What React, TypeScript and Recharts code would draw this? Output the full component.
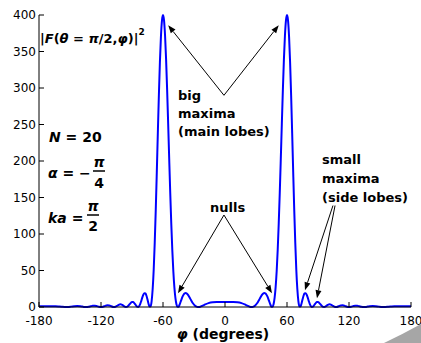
import { LineChart, Line, XAxis, YAxis, ReferenceLine } from "recharts"

// azimuth angle (degrees)
const phi = [
  -180, -174, -170, -167, -164, -161, -158, -155, -152, -149,
  -146, -143, -140, -138, -136, -134, -132, -130, -128, -126,
  -124, -122, -120, -118, -116, -114, -112, -110, -108, -106,
  -104, -103, -102, -101, -100, -99, -98, -97, -96, -95,
  -94, -93, -92, -91, -90, -89, -88, -87, -86, -85,
  -84, -83, -82, -81, -80, -79, -78, -77, -76, -75,
  -74, -73, -72, -71, -70, -69, -68, -67, -66, -65,
  -64, -63, -62, -61, -60, -59, -58, -57, -56, -55,
  -54, -53, -52, -51, -50, -49, -48, -47, -46, -45,
  -44, -43, -42, -41, -40, -39, -38, -37, -36, -35,
  -34, -33, -32, -31, -30, -29, -28, -27, -26, -25,
  -24, -22, -20, -16, -12, -8, -4, 0, 4, 8,
  12, 16, 20, 22, 24, 25, 26, 27, 28, 29,
  30, 31, 32, 33, 34, 35, 36, 37, 38, 39,
  40, 41, 42, 43, 44, 45, 46, 47, 48, 49,
  50, 51, 52, 53, 54, 55, 56, 57, 58, 59,
  60, 61, 62, 63, 64, 65, 66, 67, 68, 69,
  70, 71, 72, 73, 74, 75, 76, 77, 78, 79,
  80, 81, 82, 83, 84, 85, 86, 87, 88, 89,
  90, 91, 92, 93, 94, 95, 96, 97, 98, 99,
  100, 101, 102, 103, 104, 106, 108, 110, 112, 114,
  116, 118, 120, 122, 124, 126, 128, 130, 132, 134,
  136, 138, 140, 143, 146, 149, 152, 155, 158, 161,
  164, 167, 170, 174, 180,
]

// |F(theta = pi/2, phi)|^2
const power = [
  1.17, 1.17, 1.16, 1.09, 0.92, 0.64, 0.31, 0.05, 0.09, 0.51,
  1.08, 1.38, 1.05, 0.57, 0.13, 0.01, 0.34, 1.0, 1.59, 1.69,
  1.18, 0.39, 0.0, 0.45, 1.5, 2.31, 2.11, 1.0, 0.06, 0.43,
  2.06, 2.94, 3.53, 3.67, 3.29, 2.47, 1.44, 0.51, 0.03, 0.2,
  1.12, 2.63, 4.38, 5.93, 6.83, 6.77, 5.71, 3.91, 1.9, 0.4,
  0.05, 1.32, 4.25, 8.45, 13.1, 16.9, 19.0, 18.6, 15.4, 10.2,
  4.53, 0.54, 0.89, 8.2, 24.6, 51.1, 87.9, 133.2, 184.6, 238.4,
  289.8, 335.3, 370.4, 392.5, 400, 392.6, 371.5, 338.9, 297.4, 251.0,
  203.0, 156.6, 114.3, 78.1, 48.9, 27.2, 12.4, 3.85, 0.3, 0.47,
  3.05, 6.85, 10.9, 14.5, 17.2, 18.8, 19.2, 18.5, 17.0, 14.8,
  12.3, 9.74, 7.28, 5.07, 3.22, 1.79, 0.8, 0.22, 0.0, 0.1,
  0.44, 1.58, 2.97, 5.36, 6.59, 6.92, 6.88, 6.83, 6.88, 6.92,
  6.59, 5.36, 2.97, 1.58, 0.44, 0.1, 0.0, 0.22, 0.8, 1.79,
  3.22, 5.07, 7.28, 9.74, 12.3, 14.8, 17.0, 18.5, 19.2, 18.8,
  17.2, 14.5, 10.9, 6.85, 3.05, 0.47, 0.3, 3.85, 12.4, 27.2,
  48.9, 78.1, 114.3, 156.6, 203.0, 251.0, 297.4, 338.9, 371.5, 392.6,
  400, 392.5, 370.4, 335.3, 289.8, 238.4, 184.6, 133.2, 87.9, 51.1,
  24.6, 8.2, 0.89, 0.54, 4.53, 10.2, 15.4, 18.6, 19.0, 16.9,
  13.1, 8.45, 4.25, 1.32, 0.05, 0.4, 1.9, 3.91, 5.71, 6.77,
  6.83, 5.93, 4.38, 2.63, 1.12, 0.2, 0.03, 0.51, 1.44, 2.47,
  3.29, 3.67, 3.53, 2.94, 2.06, 0.43, 0.06, 1.0, 2.11, 2.31,
  1.5, 0.45, 0.0, 0.39, 1.18, 1.69, 1.59, 1.0, 0.34, 0.01,
  0.13, 0.57, 1.05, 1.38, 1.08, 0.51, 0.09, 0.05, 0.31, 0.64,
  0.92, 1.09, 1.16, 1.17, 1.17,
]

const phiTicks = [-180, -120, -60, 0, 60, 120, 180]
const powerTicks = [0, 50, 100, 150, 200, 250, 300, 350, 400]

// annotation arrows, [from, to] in data units
const arrows = [
  [{ x: -1, y: 290 }, { x: -55, y: 386 }],
  [{ x: -1, y: 290 }, { x: 52, y: 386 }],
  [{ x: -1, y: 126 }, { x: -45.5, y: 19 }],
  [{ x: -1, y: 126 }, { x: 45.5, y: 19 }],
  [{ x: 104.5, y: 139 }, { x: 77.4, y: 23 }],
  [{ x: 106.5, y: 139 }, { x: 89, y: 12 }],
]

const data = phi.map((p, i) => ({ phi: p, power: power[i] }))

const FONT = "DejaVu Sans"

function ArrowShape(p: any) {
  const { x1, y1, x2, y2 } = p
  const a = Math.atan2(y2 - y1, x2 - x1)
  const len = 8
  const half = 3
  const bx = x2 - len * Math.cos(a)
  const by = y2 - len * Math.sin(a)
  const pts = `${x2},${y2} ${bx - half * Math.sin(a)},${by + half * Math.cos(a)} ${bx + half * Math.sin(a)},${by - half * Math.cos(a)}`
  return (
    <g>
      <line x1={x1} y1={y1} x2={bx} y2={by} stroke="#000" strokeWidth={1} />
      <polygon points={pts} fill="#000" />
    </g>
  )
}

const axisProps = {
  axisLine: { stroke: "#000" },
  tickLine: { stroke: "#000" },
  tickSize: -5,
}

export default function App() {
  const bold = { fontFamily: FONT, fontWeight: 700, fontSize: 13, fill: "#000" }
  const math = { fontFamily: FONT, fontWeight: 700, fontSize: 14, fill: "#000" }
  const it = { fontStyle: "italic" }
  return (
    <div style={{ position: "absolute", left: 0, top: 0, width: 421, height: 343, background: "#fff" }}>
      <LineChart width={421} height={343} data={data} margin={{ top: 15, right: 10, bottom: 0, left: 0 }}>
        <XAxis
          dataKey="phi"
          type="number"
          domain={[-180, 180]}
          ticks={phiTicks}
          interval={0}
          height={36}
          tickMargin={14}
          tick={{ fontSize: 12, fontFamily: FONT, fill: "#000" }}
          {...axisProps}
        />
        <XAxis
          xAxisId="top"
          orientation="top"
          dataKey="phi"
          type="number"
          domain={[-180, 180]}
          ticks={phiTicks}
          allowDataOverflow
          height={0}
          tick={false}
          {...axisProps}
        />
        <YAxis
          type="number"
          domain={[0, 400]}
          ticks={powerTicks}
          interval={0}
          width={39}
          tickMargin={8}
          tick={{ fontSize: 12, fontFamily: FONT, fill: "#000" }}
          {...axisProps}
        />
        <YAxis
          yAxisId="right"
          orientation="right"
          type="number"
          domain={[0, 400]}
          ticks={powerTicks}
          allowDataOverflow
          width={0}
          tick={false}
          {...axisProps}
        />
        <Line
          type="monotone"
          dataKey="power"
          stroke="#0000ff"
          strokeWidth={2}
          dot={false}
          isAnimationActive={false}
        />
        {arrows.map((seg, i) => (
          <ReferenceLine key={i} segment={seg} shape={ArrowShape} ifOverflow="visible" />
        ))}
      </LineChart>
      <svg width={421} height={343} style={{ position: "absolute", left: 0, top: 0, pointerEvents: "none" }}>
        <text x={40} y={43} {...math} fontSize={13}>
          |<tspan {...it}>F</tspan>(<tspan {...it}>θ</tspan> = <tspan {...it}>π</tspan>/2,<tspan {...it}>φ</tspan>)|<tspan dy={-8} fontSize={9}>2</tspan>
        </text>

        <text x={49} y={142} {...math}><tspan {...it}>N</tspan> = 20</text>

        <text x={48} y={178} {...math}><tspan {...it}>α</tspan> = −</text>
        <text x={99} y={167} {...math} {...it} textAnchor="middle">π</text>
        <line x1={93} x2={105} y1={171} y2={171} stroke="#000" strokeWidth={1.5} />
        <text x={99} y={188} {...math} textAnchor="middle">4</text>

        <text x={48} y={223} {...math}><tspan {...it}>ka</tspan> =</text>
        <text x={93} y={211} {...math} {...it} textAnchor="middle">π</text>
        <line x1={87} x2={99} y1={215} y2={215} stroke="#000" strokeWidth={1.5} />
        <text x={93} y={231} {...math} textAnchor="middle">2</text>

        <text x={178} y={100} {...bold}>big</text>
        <text x={178} y={118} {...bold}>maxima</text>
        <text x={178} y={136} {...bold}>(main lobes)</text>

        <text x={210} y={212} {...bold}>nulls</text>

        <text x={322} y={164} {...bold}>small</text>
        <text x={322} y={183} {...bold}>maxima</text>
        <text x={322} y={202} {...bold}>(side lobes)</text>

        <text x={223} y={339} {...bold} fontSize={14} textAnchor="middle">
          <tspan {...it}>φ</tspan> (degrees)
        </text>

        <path d="M384,343 Q403,334 421,324 L421,343 Z" fill="#a6a6a6" />
      </svg>
    </div>
  )
}
